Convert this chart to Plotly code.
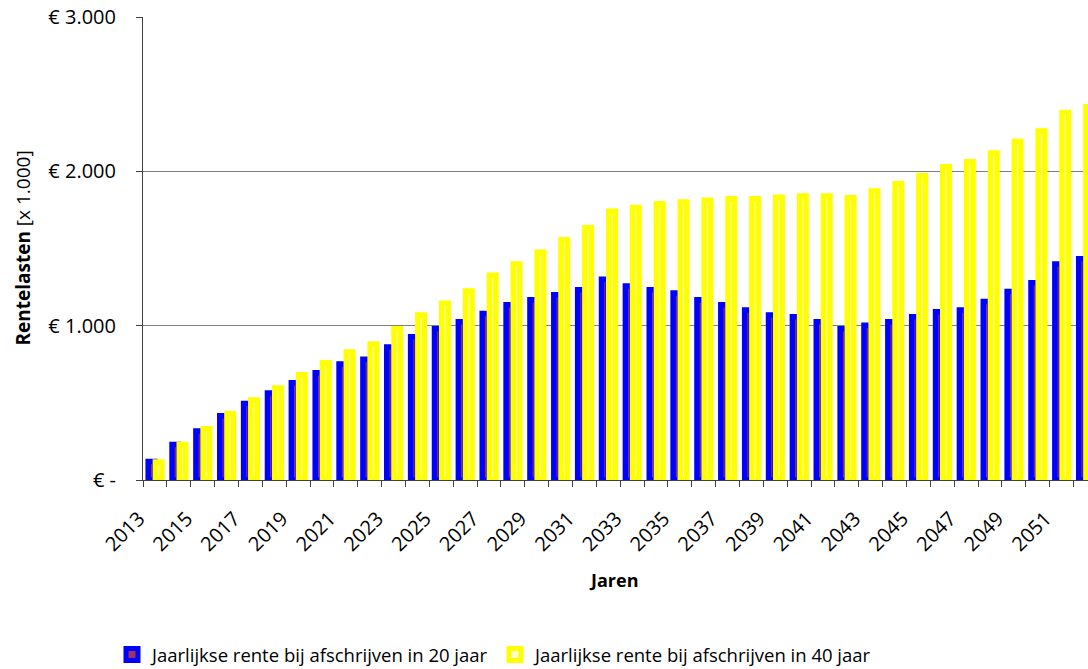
import plotly.graph_objects as go

years = list(range(2013, 2053))
rente_20 = [120, 230, 317, 416, 496, 563, 630, 695, 751, 783,
            861, 928, 980, 1025, 1079, 1136, 1168, 1200, 1233, 1300,
            1257, 1233, 1211, 1168, 1136, 1101, 1069, 1058, 1025, 980,
            1002, 1025, 1058, 1090, 1101, 1157, 1222, 1278, 1399, 1434]
rente_40 = [116, 230, 332, 429, 518, 596, 682, 760, 829, 881,
            980, 1069, 1146, 1224, 1326, 1399, 1475, 1556, 1634, 1742,
            1766, 1790, 1801, 1812, 1823, 1823, 1832, 1840, 1840, 1829,
            1872, 1920, 1972, 2030, 2062, 2119, 2194, 2261, 2382, 2419]
label_years = list(range(2013, 2052, 2))
y_tickvals = [0, 1000, 2000, 3000]
y_ticktext = ["€ -", "€ 1.000", "€ 2.000", "€ 3.000"]
name_20 = "Jaarlijkse rente bij afschrijven in 20 jaar"
name_40 = "Jaarlijkse rente bij afschrijven in 40 jaar"

FONT = "Open Sans"
W, H = 1088, 669
L, T, B = 143, 17, 189
cat_px = 23.86
plot_w = W - L
plot_h = H - T - B

fig = go.Figure()
fig.add_trace(go.Bar(
    x=years, y=rente_20, name=name_20,
    width=0.272, offset=-0.283,
    marker=dict(color="#993366", line=dict(color="#0000FF", width=5.5)),
))
fig.add_trace(go.Bar(
    x=years, y=rente_40, name=name_40,
    width=0.272, offset=0.019,
    marker=dict(color="#FFFFCC", line=dict(color="#FFFF00", width=5.5)),
))

fig.update_layout(
    width=W, height=H,
    margin=dict(l=L, r=0, t=T, b=B, pad=0, autoexpand=False),
    paper_bgcolor="white", plot_bgcolor="white",
    barmode="overlay",
    font=dict(family=FONT, color="black", size=20),
    showlegend=True,
    legend=dict(
        orientation="h", x=(112 - L) / plot_w, xanchor="left",
        y=(480 - 655) / plot_h, yanchor="middle",
        font=dict(family=FONT, size=18.5, color="black"),
        itemwidth=30, traceorder="normal", entrywidth=338,
        bgcolor="rgba(0,0,0,0)",
    ),
    xaxis=dict(
        range=[2012.5, 2012.5 + plot_w / cat_px],
        tickmode="array", tickvals=label_years,
        ticktext=[str(y) for y in label_years],
        tickangle=-45, ticks="", showgrid=False, zeroline=False,
        showline=True, linecolor="#404040", linewidth=1,
        tickfont=dict(family=FONT, size=20, color="black"),
        ticklabelshift=-16, ticklabelstandoff=18,
        automargin=False,
        minor=dict(tick0=2012.5, dtick=1, ticks="outside", ticklen=6,
                   tickcolor="#404040", showgrid=False),
    ),
    yaxis=dict(
        range=[0, 3000],
        tickmode="array", tickvals=y_tickvals, ticktext=y_ticktext,
        ticks="outside", ticklen=6, tickcolor="#404040",
        showgrid=True, gridcolor="#808080", gridwidth=1,
        zeroline=False, showline=True, linecolor="#404040", linewidth=1,
        tickfont=dict(family=FONT, size=20, color="black"),
        ticklabelstandoff=16, automargin=False,
    ),
    annotations=[
        dict(text="<b>Rentelasten</b> [x 1.000]", textangle=-90,
             xref="paper", yref="paper", x=(22 - L) / plot_w, y=0.5,
             xanchor="center", yanchor="middle", showarrow=False,
             font=dict(family=FONT, size=19, color="black")),
        dict(text="<b>Jaren</b>",
             xref="paper", yref="paper", x=(613 - L) / plot_w,
             y=(480 - 580) / plot_h,
             xanchor="center", yanchor="middle", showarrow=False,
             font=dict(family=FONT, size=18, color="black")),
    ],
)

fig.write_html(
    "out.html",
    config={"displayModeBar": False},
    post_script="document.body.style.margin='0';document.body.style.overflow='hidden';",
)
